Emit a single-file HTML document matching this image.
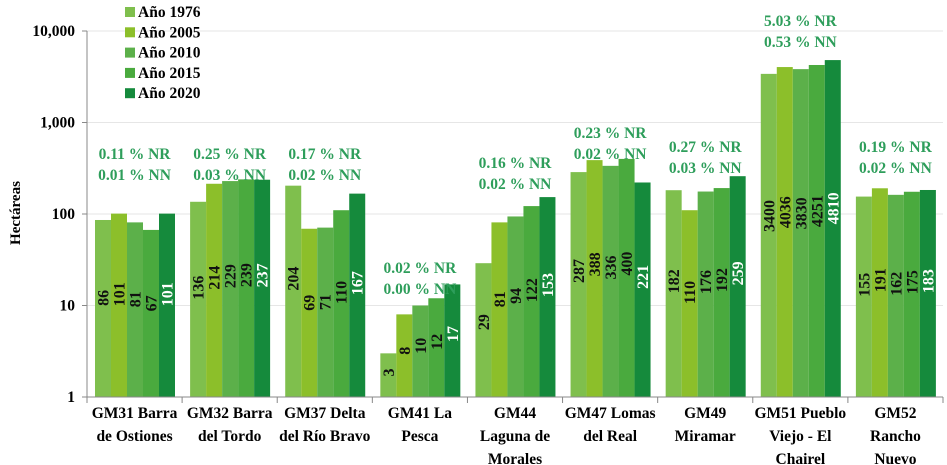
<!DOCTYPE html>
<html><head><meta charset="utf-8"><style>
body{margin:0;background:#fff;}
svg{display:block;font-family:"Liberation Serif",serif;font-weight:bold;}
</style></head><body>
<svg id="chart" width="947" height="465" viewBox="0 0 947 465"></svg>
<script>
const categories=[["GM31 Barra","de Ostiones"],["GM32 Barra","del Tordo"],["GM37 Delta","del Río Bravo"],["GM41 La","Pesca"],["GM44","Laguna de","Morales"],["GM47 Lomas","del Real"],["GM49","Miramar"],["GM51 Pueblo","Viejo - El","Chairel"],["GM52","Rancho","Nuevo"]];
const seriesNames=["Año 1976","Año 2005","Año 2010","Año 2015","Año 2020"];
const s1976=[86,136,204,3,29,287,182,3400,155];
const s2005=[101,214,69,8,81,388,110,4036,191];
const s2010=[81,229,71,10,94,336,176,3830,162];
const s2015=[67,239,110,12,122,400,192,4251,175];
const s2020=[101,237,167,17,153,221,259,4810,183];
const nrLabels=["0.11 % NR","0.25 % NR","0.17 % NR","0.02 % NR","0.16 % NR","0.23 % NR","0.27 % NR","5.03 % NR","0.19 % NR"];
const nnLabels=["0.01 % NN","0.03 % NN","0.02 % NN","0.00 % NN","0.02 % NN","0.02 % NN","0.03 % NN","0.53 % NN","0.02 % NN"];
const yTicks=[1,10,100,1000,10000];
const yTickLabels=["1","10","100","1,000","10,000"];
const annotY=[159,159,159,273,168,138,152,26,152];
const series=[s1976,s2005,s2010,s2015,s2020];
const colors=["#7fbf4d","#8cbf2a","#5cb04a","#4aaa3e","#158a3c"];
const svg=document.getElementById('chart');
const NS="http://www.w3.org/2000/svg";
const X0=87,X1=943,Y1=397,DEC=91.5;
const GW=(X1-X0)/categories.length;
function y(v){return Y1-Math.log10(v)*DEC;}
function gx(i){return X0+i*GW;}
function mk(t,a,txt){const e=document.createElementNS(NS,t);for(const k in a)e.setAttribute(k,a[k]);if(txt!=null)e.textContent=txt;svg.appendChild(e);return e;}
yTicks.forEach((t,i)=>{
  if(i>0){const g=mk('line',{x1:X0,x2:X1,y1:y(t),y2:y(t),stroke:'#e6e6e6','stroke-width':1});
  
  }
  const tk=mk('line',{x1:X0-5,x2:X0,y1:y(t),y2:y(t),stroke:'#888'});
  
  
  const l=mk('text',{x:75,y:y(t)+5,'text-anchor':'end','font-size':15.5},yTickLabels[i]);
  
  
});
const yt=mk('text',{x:0,y:0,transform:'translate(20,213) rotate(-90)','text-anchor':'middle','font-size':15},'Hectáreas');


categories.forEach((c,i)=>{
  const bw=16,start=gx(i)+8;
  series.forEach((s,j)=>{
    const v=s[i],top=y(v);
    const r=mk('rect',{x:start+j*bw,y:top,width:bw,height:Y1-top,fill:colors[j]});
    
    
    const cy=Y1-0.56*(Y1-top);
    const cx=start+j*bw+bw/2;
    const t=mk('text',{x:0,y:0,transform:`translate(${cx+5.5},${cy}) rotate(-90)`,'text-anchor':'middle','font-size':16,fill:j==4?'#fff':'#111'},String(v));
    
    
  });
  const cx=gx(i)+GW/2;
  const a1=mk('text',{x:cx,y:annotY[i],'text-anchor':'middle','font-size':15.5,fill:'#2e9e5b'},nrLabels[i]);
  
  
  const a2=mk('text',{x:cx,y:annotY[i]+21,'text-anchor':'middle','font-size':15.5,fill:'#2e9e5b'},nnLabels[i]);
  
  
  c.forEach((ln,k)=>{
    const t=mk('text',{x:cx,y:418+k*23,'text-anchor':'middle','font-size':15.5},ln);
    
    
  });
});
for(let i=0;i<=categories.length;i++){
  const t=mk('line',{x1:gx(i),x2:gx(i),y1:Y1,y2:Y1+6,stroke:'#888'});
  
  
}
const ya=mk('line',{x1:X0,x2:X0,y1:y(10000),y2:Y1,stroke:'#888'});


const xa=mk('line',{x1:X0,x2:X1,y1:Y1,y2:Y1,stroke:'#888'});


seriesNames.forEach((n,j)=>{
  const yy=13+j*20.3;
  const r=mk('rect',{x:125,y:yy-6,width:10,height:10,fill:colors[j]});
  
  
  const t=mk('text',{x:138,y:yy+4,'font-size':15.5},n);
  
  
});
</script>
</body></html>
